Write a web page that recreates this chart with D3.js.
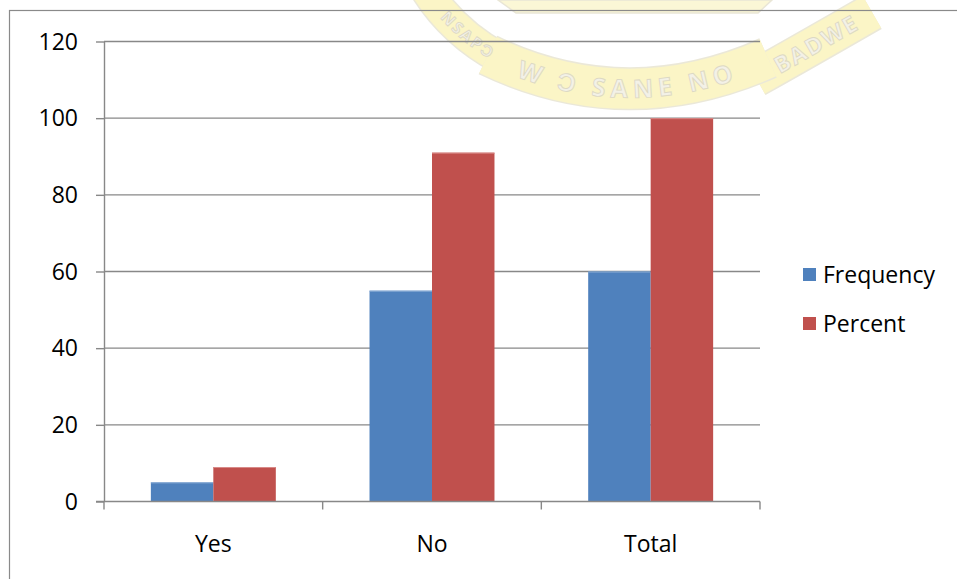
<!DOCTYPE html>
<html><head><meta charset="utf-8">
<script src="https://cdn.jsdelivr.net/npm/d3@7"></script>
<style>body{margin:0;background:#fff}svg{display:block}text{font-family:"Open Sans",sans-serif;fill:#000}</style>
</head><body>
<svg id="c" width="957" height="579"></svg>
<script>
const categories = ["Yes", "No", "Total"];
const seriesNames = ["Frequency", "Percent"];
const frequency = [5, 55, 60];
const percent = [9, 91, 100];
const yTicks = [0, 20, 40, 60, 80, 100, 120];
const seriesColors = ["#4F81BD", "#C0504D"];
const watermarkTexts = ["NSAPƆ", "W Ɔ SANE  NO", "BADWE"];

const svg = d3.select("#c");
const L = 104, R = 760, T = 41.5, B = 501.5;
const FONT = 23;

// faint watermark (university logo behind the chart)
const defs = svg.append("defs");
const wm = svg.append("g").attr("opacity", 0.85);
function qpath(id, x0, y0, cx, cy, x1, y1) {
  const p = d3.path(); p.moveTo(x0, y0); p.quadraticCurveTo(cx, cy, x1, y1);
  defs.append("path").attr("id", id).attr("d", p.toString());
  return p.toString();
}
// shield base band
wm.append("path").attr("d", "M498,0 L772,0 L758,13 L516,13 Z").attr("fill", "#fbf6cf").attr("stroke", "#e6e2cf").attr("stroke-width", 1.5);
const ribbons = [
  { id: "wp1", d: qpath("wp1", 425, -12, 452, 32, 500, 58), text: watermarkTexts[0], fs: 16, off: "62%", w: 30, ls: 2 },
  { id: "wp3", d: qpath("wp3", 756, 78, 806, 50, 872, 12), text: watermarkTexts[2], fs: 23, off: "52%", w: 36, ls: 2 },
  { id: "wp2", d: qpath("wp2", 488, 55, 625, 121, 768, 58), text: watermarkTexts[1], fs: 25, off: "50%", w: 40, ls: 5 }
];
ribbons.forEach(r => {
  wm.append("path").attr("d", r.d).attr("fill", "none").attr("stroke", "#e8e5d2").attr("stroke-width", r.w + 3);
  wm.append("path").attr("d", r.d).attr("fill", "none").attr("stroke", "#fbf4bd").attr("stroke-width", r.w);
});
ribbons.forEach(r => {
  wm.append("text").attr("font-size", r.fs).attr("font-weight", "bold").attr("letter-spacing", r.ls)
    .attr("dy", "0.36em")
    .style("fill", "#f1efe3").style("stroke", "#d8d3ba").style("stroke-width", 0.9)
    .append("textPath").attr("href", "#" + r.id).attr("startOffset", r.off).attr("text-anchor", "middle").text(r.text);
});

// outer border
svg.append("rect").attr("x", 9.5).attr("y", 10.5).attr("width", 1000).attr("height", 1000)
  .attr("fill", "none").attr("stroke", "#8a8a8a").attr("stroke-width", 1.2);

const x0 = d3.scaleBand().domain(categories).range([L, R]).paddingInner(0).paddingOuter(0);
const x1 = d3.scaleBand().domain(seriesNames).range([0, x0.bandwidth()]).paddingInner(0).paddingOuter(0.75);
const y = d3.scaleLinear().domain([0, 120]).range([B, T]);

// gridlines
svg.append("g").selectAll("line").data(yTicks.filter(d => d > 0)).join("line")
  .attr("x1", L).attr("x2", R).attr("y1", d => y(d)).attr("y2", d => y(d))
  .attr("stroke", "#888").attr("stroke-width", 1.4);

// bars
const data = categories.map((c, i) => ({ c, vals: [frequency[i], percent[i]] }));
const g = svg.append("g");
data.forEach(d => {
  d.vals.forEach((v, j) => {
    const bx = x0(d.c) + x1(seriesNames[j]);
    g.append("rect").attr("x", bx).attr("y", y(v))
      .attr("width", x1.bandwidth()).attr("height", y(0) - y(v)).attr("fill", seriesColors[j]);
    g.append("line").attr("x1", bx).attr("x2", bx + x1.bandwidth())
      .attr("y1", y(v) + 0.5).attr("y2", y(v) + 0.5)
      .attr("stroke", j === 0 ? "#8fb0d8" : "#d88a88").attr("stroke-width", 1);
  });
});

// y axis
const yAxis = svg.append("g").attr("transform", `translate(${L},0)`)
  .call(d3.axisLeft(y).tickValues(yTicks).tickSizeInner(8).tickSizeOuter(0).tickPadding(18));
yAxis.select(".domain").attr("stroke", "#888").attr("stroke-width", 1.4);
yAxis.selectAll(".tick line").attr("stroke", "#888").attr("stroke-width", 1.4);
yAxis.selectAll(".tick text").attr("font-size", FONT).style("font-family", "'Open Sans',sans-serif").attr("dy", "0.34em");

// x axis
const xg = svg.append("g");
xg.append("line").attr("x1", L - 8).attr("x2", R).attr("y1", B).attr("y2", B)
  .attr("stroke", "#888").attr("stroke-width", 1.6);
const bounds = categories.map(c => x0(c)).concat([x0(categories[categories.length - 1]) + x0.bandwidth()]);
xg.selectAll("line.t").data(bounds).join("line").attr("class", "t")
  .attr("x1", d => d).attr("x2", d => d).attr("y1", B).attr("y2", B + 8)
  .attr("stroke", "#888").attr("stroke-width", 1.4);
xg.selectAll("text").data(categories).join("text")
  .attr("x", d => x0(d) + x0.bandwidth() / 2).attr("y", 552)
  .attr("text-anchor", "middle").attr("font-size", FONT).text(d => d);

// legend
const lg = svg.append("g");
seriesNames.forEach((s, i) => {
  const yy = 275 + i * 49;
  lg.append("rect").attr("x", 803).attr("y", yy - 7).attr("width", 13).attr("height", 13).attr("fill", seriesColors[i]);
  lg.append("text").attr("x", 823).attr("y", yy + 8).attr("font-size", FONT).text(s);
});
</script>
</body></html>
